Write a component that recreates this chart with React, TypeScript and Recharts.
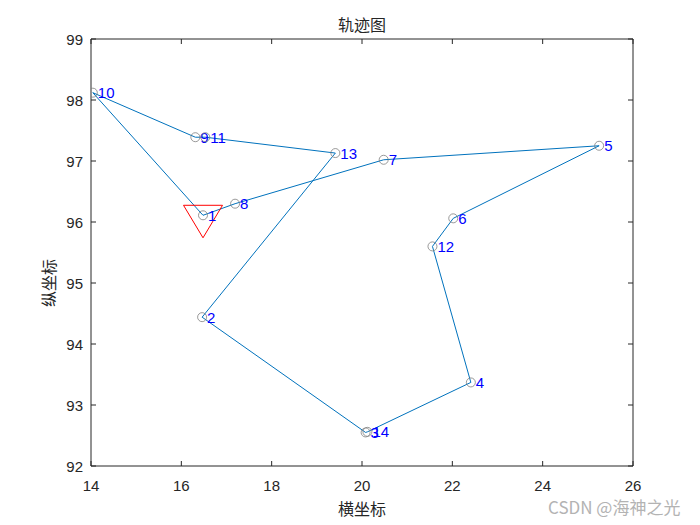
import React from "react";
import {ComposedChart, Scatter, XAxis, YAxis} from "recharts";

// point ids, coordinates
const pointIds = ["1", "2", "3", "4", "5", "6", "7", "8", "9", "10", "11", "12", "13", "14"];
const xValues = [16.48, 16.46, 20.08, 22.41, 25.25, 22.02, 20.48, 17.19, 16.31, 14.04, 16.53, 21.56, 19.41, 20.12];
const yValues = [96.11, 94.44, 92.55, 93.37, 97.25, 96.06, 97.02, 96.3, 97.39, 98.12, 97.39, 95.6, 97.13, 92.56];

// visiting order of the route (closed loop back to 1)
const route = ["1", "8", "7", "5", "6", "12", "4", "14", "3", "2", "13", "11", "9", "10", "1"];
const startId = "1";

const xTicks = [14, 16, 18, 20, 22, 24, 26];
const yTicks = [92, 93, 94, 95, 96, 97, 98, 99];

const points = pointIds.map((id, i) => ({id, x: xValues[i], y: yValues[i]}));
const routeData = route.map((id) => points.find((p) => p.id === id)!);
const startData = points.filter((p) => p.id === startId);

const AXIS = "#262626";
const FONT = "'Liberation Sans', Arial, Helvetica, sans-serif";
const CJK = "'Noto Sans CJK SC', sans-serif";

function BottomTick({x, y, payload}: any) {
  return (
    <g>
      <line x1={x} y1={y} x2={x} y2={y - 5} stroke={AXIS} />
      <text x={x} y={y + 19} textAnchor="middle" dominantBaseline="central" fill={AXIS} fontSize={15} fontFamily={FONT}>
        {payload.value}
      </text>
    </g>
  );
}

function TopTick({x, y}: any) {
  return <line x1={x} y1={y} x2={x} y2={y + 5} stroke={AXIS} />;
}

function LeftTick({x, y, payload}: any) {
  return (
    <g>
      <line x1={x} y1={y} x2={x + 5} y2={y} stroke={AXIS} />
      <text x={x - 8} y={y} textAnchor="end" dominantBaseline="central" fill={AXIS} fontSize={15} fontFamily={FONT}>
        {payload.value}
      </text>
    </g>
  );
}

function RightTick({x, y}: any) {
  return <line x1={x} y1={y} x2={x - 5} y2={y} stroke={AXIS} />;
}

function PointMark({cx, cy, payload}: any) {
  return (
    <g>
      <circle cx={cx} cy={cy} r={4.5} fill="none" stroke="#7f7f7f" strokeWidth={0.8} />
      <text x={cx + 5} y={cy} dominantBaseline="central" fill="#0000ff" fontSize={15} fontFamily={FONT}>
        {payload.id}
      </text>
    </g>
  );
}

function StartMark({cx, cy}: any) {
  const pts = `${cx - 19.5},${cy - 10} ${cx + 19.5},${cy - 10} ${cx},${cy + 22.5}`;
  return <polygon points={pts} fill="none" stroke="#ff0000" strokeWidth={1} />;
}

function NoMark() {
  return <g />;
}

export default function App() {
  return (
    <div style={{position: "absolute", left: 0, top: 0, width: 700, height: 525, background: "#fff"}}>
      <ComposedChart width={700} height={525} margin={{top: 29, right: 57, bottom: 29, left: 51}}>
        <XAxis
          xAxisId="b"
          type="number"
          dataKey="x"
          domain={[14, 26]}
          ticks={xTicks}
          height={30}
          tickSize={0}
          tickMargin={0}
          axisLine={{stroke: AXIS}}
          tickLine={false}
          tick={<BottomTick />}
          allowDataOverflow
        />
        <XAxis
          xAxisId="t"
          orientation="top"
          type="number"
          dataKey="x"
          domain={[14, 26]}
          ticks={xTicks}
          height={10}
          tickSize={0}
          tickMargin={0}
          axisLine={{stroke: AXIS}}
          tickLine={false}
          tick={<TopTick />}
          allowDataOverflow
        />
        <YAxis
          yAxisId="l"
          type="number"
          dataKey="y"
          domain={[92, 99]}
          ticks={yTicks}
          width={40}
          tickSize={0}
          tickMargin={0}
          axisLine={{stroke: AXIS}}
          tickLine={false}
          tick={<LeftTick />}
          allowDataOverflow
        />
        <YAxis
          yAxisId="r"
          orientation="right"
          type="number"
          dataKey="y"
          domain={[92, 99]}
          ticks={yTicks}
          width={10}
          tickSize={0}
          tickMargin={0}
          axisLine={{stroke: AXIS}}
          tickLine={false}
          tick={<RightTick />}
          allowDataOverflow
        />
        <Scatter
          xAxisId="b"
          yAxisId="l"
          data={routeData}
          line={{stroke: "#0072bd", strokeWidth: 1}}
          lineType="joint"
          shape={<NoMark />}
          isAnimationActive={false}
        />
        <Scatter xAxisId="b" yAxisId="l" data={startData} shape={<StartMark />} isAnimationActive={false} />
        <Scatter xAxisId="b" yAxisId="l" data={points} shape={<PointMark />} isAnimationActive={false} />
      </ComposedChart>
      <div style={{position: "absolute", left: 262, top: 13, width: 200, textAlign: "center", fontFamily: CJK, fontSize: 16, lineHeight: "22px", color: AXIS}}>
        轨迹图
      </div>
      <div style={{position: "absolute", left: 262, top: 497, width: 200, textAlign: "center", fontFamily: CJK, fontSize: 16, lineHeight: "22px", color: AXIS}}>
        横坐标
      </div>
      <div
        style={{
          position: "absolute",
          left: 48 - 100,
          top: 283 - 11,
          width: 200,
          textAlign: "center",
          fontFamily: CJK,
          fontSize: 16,
          lineHeight: "22px",
          color: AXIS,
          transform: "rotate(-90deg)",
        }}
      >
        纵坐标
      </div>
      <div style={{position: "absolute", left: 548, top: 495, fontFamily: CJK, fontSize: 17, lineHeight: "24px", color: "#b3b3b3", whiteSpace: "nowrap"}}>
        CSDN @海神之光
      </div>
    </div>
  );
}
